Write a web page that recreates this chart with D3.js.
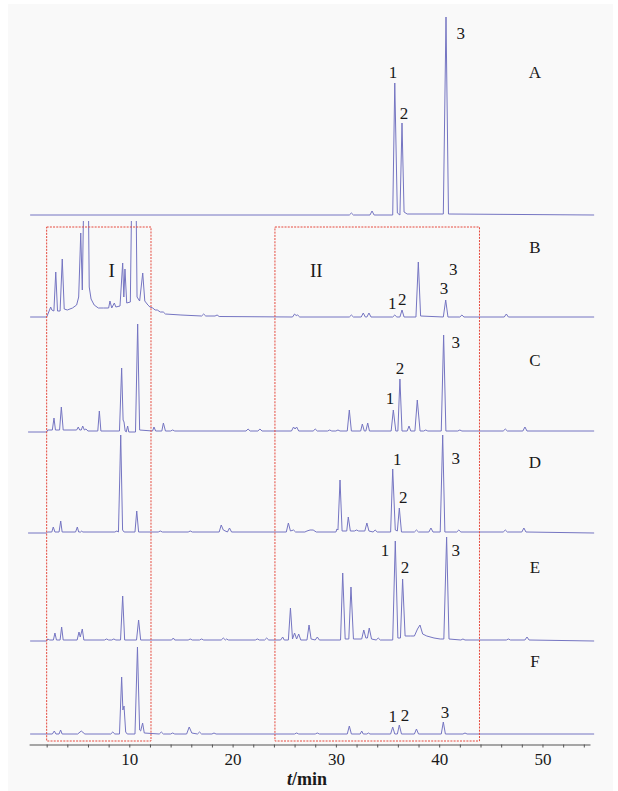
<!DOCTYPE html>
<html>
<head>
<meta charset="utf-8">
<script src="https://cdn.jsdelivr.net/npm/d3@7"></script>
<style>
  html, body { margin: 0; padding: 0; background: #fff; }
  svg { display: block; }
</style>
</head>
<body>
<svg id="chart" width="618" height="791"></svg>
<script>
// chromatogram traces, [t/min, signal]
const traceA = [[0.4,0],[31.3,0],[31.5,2],[31.7,0],[33.3,0],[33.5,4],[33.7,0],[35.5,0],[35.7,132],[35.95,2],[36.2,0],[36.4,92],[36.6,3],[36.9,1],[40.4,1],[40.66,198],[40.9,1],[55,0]];

const traceB = [[0.4,0],[2.0,0],[2.2,5],[2.39,10],[2.5,7],[2.7,6],[2.88,45],[3.05,6],[3.3,6],[3.51,58],[3.7,8],[4.0,7],[4.5,9],[4.9,12],[5.1,20],[5.3,84],[5.45,27],[5.71,200],[5.84,120],[5.97,200],[6.12,30],[6.3,18],[6.6,12],[7.0,9],[7.5,9],[8.0,9],[8.13,16],[8.3,9],[8.55,14],[8.7,10],[9.1,11],[9.36,54],[9.47,20],[9.58,48],[9.75,14],[10.1,15],[10.33,200],[10.45,120],[10.58,200],[10.75,20],[11.0,16],[11.3,44],[11.5,16],[11.8,12],[12.0,10],[12.27,9],[12.5,7],[12.71,7],[13.0,5],[13.29,5],[13.5,3],[15.0,2],[17.0,1],[17.2,3],[17.4,1],[18.3,1],[18.5,2],[18.7,0.5],[25.8,0],[26.0,3],[26.15,1.5],[26.3,2],[26.5,0],[31.3,0],[31.5,2],[31.7,0],[32.45,0],[32.65,4],[32.85,0],[33.0,0],[33.2,4],[33.4,0],[35.5,0],[35.7,2],[35.9,0],[36.2,0],[36.4,7],[36.6,0],[37.75,0],[37.98,55],[38.2,1],[40.4,0],[40.63,17],[40.85,0],[42.0,0],[42.2,2],[42.4,0],[46.3,0],[46.5,3],[46.7,0],[55,0]];

const traceC = [[0.2,0],[2.0,0],[2.1,2],[2.55,2],[2.71,14],[2.85,2],[3.25,2],[3.42,25],[3.6,2],[4.9,2],[5.06,5],[5.2,2],[5.35,2],[5.49,6],[5.65,2],[5.8,3],[6.0,1],[6.95,1],[7.1,21],[7.25,1],[9.05,1],[9.26,64],[9.4,12],[9.49,10],[9.6,1],[9.7,0],[9.84,6],[9.95,0],[10.6,0],[10.81,108],[11.0,2],[12.25,1],[12.39,5],[12.55,1],[13.15,1],[13.3,9],[13.5,1],[14.0,1],[14.2,2],[14.4,1],[21.3,1],[21.5,3],[21.7,1],[22.45,1],[22.65,3],[22.85,1],[25.7,1],[25.9,5],[26.05,3],[26.2,5],[26.4,1],[27.8,1],[28.0,3],[28.2,1],[29.2,1],[29.4,2],[29.6,1],[30.0,1],[30.2,2],[30.4,1],[31.1,1],[31.3,22],[31.5,1],[32.4,1],[32.56,8],[32.75,1],[32.9,1],[33.08,9],[33.25,1],[35.35,1],[35.56,22],[35.8,1],[36.0,1],[36.2,53],[36.4,1],[36.9,1],[37.08,6],[37.25,1],[37.65,1],[37.88,32],[38.15,1],[38.5,1],[38.7,2],[38.9,1],[40.2,1],[40.43,97],[40.65,1],[41.8,1],[42.0,2],[42.2,1],[46.2,1],[46.4,3],[46.6,1],[48.1,1],[48.3,5],[48.5,1],[55,1]];

const traceD = [[0.2,0],[2.0,0],[2.1,1],[2.5,1],[2.64,6],[2.8,1],[3.2,1],[3.36,12],[3.5,1],[4.8,1],[4.97,6],[5.1,1],[5.3,1],[5.4,2],[5.5,1],[8.6,1],[8.8,2],[8.95,1],[9.17,98],[9.35,3],[9.5,1],[10.55,1],[10.72,22],[10.9,1],[12.8,1],[13.0,2],[13.2,1],[15.7,1],[15.9,2],[16.1,1],[18.7,1],[18.9,8],[19.1,3],[19.5,1],[19.7,5],[19.9,1],[25.2,1],[25.4,10],[25.6,2],[25.9,3],[26.1,1],[27.0,1],[27.2,2],[27.5,3],[27.8,3],[28.1,1],[30.0,1],[30.1,4],[30.2,3],[30.4,53],[30.6,2],[31.05,2],[31.2,16],[31.4,2],[31.8,2],[32.0,3],[32.2,2],[32.8,2],[33.0,10],[33.2,2],[33.6,1],[33.8,3],[34.0,1],[35.3,1],[35.5,64],[35.75,3],[35.95,2],[36.14,25],[36.35,1],[37.6,1],[37.8,3],[38.0,1],[39.0,1],[39.2,5],[39.4,1],[40.1,1],[40.34,98],[40.55,1],[41.7,1],[41.9,3],[42.1,1],[46.2,1],[46.4,3],[46.6,1],[48.0,1],[48.2,5],[48.4,1],[55,0]];

const traceE = [[0.4,0],[2.0,0],[2.1,2],[2.3,1],[2.65,1],[2.8,8],[2.95,1],[3.3,1],[3.45,14],[3.6,1],[4.95,1],[5.13,9],[5.25,4],[5.45,12],[5.6,1],[7.6,1],[7.8,2],[8.0,1],[8.3,1],[8.5,2],[8.7,1],[9.15,1],[9.36,45],[9.55,1],[10.7,1],[10.9,21],[11.1,1],[14.1,1],[14.26,3],[14.4,1],[15.7,1],[15.9,2],[16.1,1],[16.8,1],[17.0,2],[17.2,1],[18.9,1],[19.1,3],[19.3,1],[19.4,2],[19.6,1],[22.2,1],[22.4,2],[22.6,1],[23.1,1],[23.3,3],[23.5,1],[24.65,1],[24.85,4],[25.0,1],[25.4,1],[25.6,33],[25.8,2],[26.0,8],[26.2,2],[26.4,7],[26.6,1],[27.2,1],[27.4,16],[27.6,2],[28.0,1],[28.2,4],[28.4,1],[30.45,1],[30.66,68],[30.9,2],[31.25,2],[31.46,54],[31.7,2],[32.5,2],[32.7,11],[32.9,3],[33.05,3],[33.23,13],[33.45,2],[33.9,1],[34.1,3],[34.3,1],[35.5,1],[35.75,100],[36.0,3],[36.25,3],[36.46,62],[36.7,5],[37.2,5],[37.6,5],[37.9,12],[38.14,16],[38.4,7],[38.8,5],[39.5,3],[40.1,2],[40.45,2],[40.72,104],[40.95,2],[42.1,1],[42.3,2],[42.5,1],[46.5,1],[46.7,2],[46.9,1],[48.3,1],[48.5,4],[48.7,1],[55,0]];

const traceF = [[0.4,0],[2.0,0],[2.55,0],[2.74,3],[2.9,0],[3.2,0],[3.35,4],[3.5,0],[5.0,0],[5.35,3],[5.7,0],[8.2,0],[8.4,2],[8.6,0],[9.05,0],[9.26,57],[9.38,24],[9.49,28],[9.65,2],[9.8,0],[10.55,0],[10.79,87],[11.0,4],[11.1,3],[11.29,11],[11.45,1],[12.9,0],[13.1,2],[13.3,0],[14.0,0],[14.2,1],[14.4,0],[15.55,0],[15.8,7],[16.05,1],[16.6,0],[16.8,2],[17.0,0],[18.0,0],[18.2,1],[18.4,0],[26.0,0],[26.2,1],[26.4,0],[28.0,0],[28.2,1],[28.4,0],[31.1,0],[31.3,8],[31.5,0],[32.35,0],[32.5,3],[32.65,0],[33.0,0],[33.15,1],[33.3,0],[35.3,0],[35.5,7],[35.7,0],[35.95,0],[36.14,9],[36.35,0],[37.6,0],[37.8,5],[38.0,0],[40.2,0],[40.4,12],[40.6,0],[42.3,0],[42.5,1],[42.7,0],[55,0]];

const sampleNames = ['A', 'B', 'C', 'D', 'E', 'F'];
const traces = [traceA, traceB, traceC, traceD, traceE, traceF];

// peak numbers per trace, [t, signal, text]
const peakLabels = [
	[[35.53,143,'1'],[36.59,102,'2'],[42.08,182,'3']],
	[[35.46,14,'1'],[36.43,18,'2'],[40.46,29,'3'],[41.37,48,'3']],
	[[35.24,34,'1'],[36.2,64,'2'],[41.6,90,'3']],
	[[35.94,74,'1'],[36.52,36,'2'],[41.6,75,'3']],
	[[34.75,91,'1'],[36.69,74,'2'],[41.6,91,'3']],
	[[35.5,18,'1'],[36.69,19,'2'],[40.56,22,'3']]
];
const namePos = [[49.27,143],[49.27,70],[49.27,72],[49.27,71],[49.27,74],[49.27,73]];

// regions marked with red boxes, [start, end, name, t of name]
const regions = [[2.0, 12.1, 'I', 8.3], [24.1, 43.9, 'II', 28.1]];
const xTicks = d3.range(2, 55, 2);

// layout
const baselines = [215, 317, 432, 533, 641, 734];
const clipTops = [0, 221, 0, 0, 0, 0];
const axisY = 744.5;
const boxTop = 227, boxBottom = 741;
const lineColor = '#7575c2';
const serif = '"Liberation Serif", "Times New Roman", serif';

const svg = d3.select('#chart');
svg.append('rect').attr('x', 8).attr('y', 4).attr('width', 605).attr('height', 787).attr('fill', '#f9f9f9');

const x = d3.scaleLinear().domain([0.3, 54.6]).range([29.1, 590]);
const defs = svg.append('defs');

traces.forEach((trace, i) => {
	const y = d3.scaleLinear().domain([0, 100]).range([baselines[i], baselines[i] - 100]);
	const line = d3.line().x(d => x(d[0])).y(d => y(d[1]));
	const path = svg.append('path')
		.attr('fill', 'none')
		.attr('stroke', lineColor)
		.attr('stroke-width', 1)
		.attr('stroke-linejoin', 'round')
		.attr('d', line(trace));
	if (clipTops[i]) {
		defs.append('clipPath').attr('id', 'clip' + i)
			.append('rect').attr('x', 0).attr('y', clipTops[i]).attr('width', 618).attr('height', 791 - clipTops[i]);
		path.attr('clip-path', `url(#clip${i})`);
	}

	svg.append('g').selectAll('text')
		.data(peakLabels[i])
		.join('text')
		.attr('x', d => x(d[0]))
		.attr('y', d => y(d[1]))
		.attr('text-anchor', 'middle')
		.attr('dominant-baseline', 'central')
		.attr('font-family', serif)
		.attr('font-size', 17)
		.attr('fill', '#1a1a1a')
		.text(d => d[2]);

	svg.append('text')
		.attr('x', x(namePos[i][0]))
		.attr('y', y(namePos[i][1]))
		.attr('text-anchor', 'middle')
		.attr('dominant-baseline', 'central')
		.attr('font-family', serif)
		.attr('font-size', 17)
		.attr('fill', '#1a1a1a')
		.text(sampleNames[i]);
});

// red dashed boxes
const yB = d3.scaleLinear().domain([0, 100]).range([baselines[1], baselines[1] - 100]);
regions.forEach(r => {
	svg.append('rect')
		.attr('x', x(r[0]))
		.attr('y', boxTop)
		.attr('width', x(r[1]) - x(r[0]))
		.attr('height', boxBottom - boxTop)
		.attr('fill', 'none')
		.attr('stroke', '#e5483c')
		.attr('stroke-width', 1)
		.attr('stroke-dasharray', '2,1.2');
	svg.append('text')
		.attr('x', x(r[3]))
		.attr('y', yB(47))
		.attr('text-anchor', 'middle')
		.attr('dominant-baseline', 'central')
		.attr('font-family', serif)
		.attr('font-size', 19)
		.attr('fill', '#1a1a1a')
		.text(r[2]);
});

// x axis
const axis = svg.append('g')
	.attr('transform', `translate(0,${axisY})`)
	.call(d3.axisBottom(x).tickValues(xTicks).tickSize(3).tickSizeOuter(0).tickPadding(5)
		.tickFormat(d => (d % 10 === 0 ? d : '')));
axis.select('.domain').attr('stroke', '#555').attr('stroke-width', 1.2);
axis.selectAll('.tick line').attr('stroke', '#555');
axis.selectAll('.tick text')
	.attr('font-family', serif)
	.attr('font-size', 17)
	.attr('fill', '#1a1a1a');

const title = svg.append('text')
	.attr('x', 307)
	.attr('y', 785)
	.attr('text-anchor', 'middle')
	.attr('font-family', serif)
	.attr('font-size', 18)
	.attr('font-weight', 'bold')
	.attr('fill', '#1a1a1a');
title.append('tspan').attr('font-style', 'italic').text('t');
title.append('tspan').text('/min');
</script>
</body>
</html>
